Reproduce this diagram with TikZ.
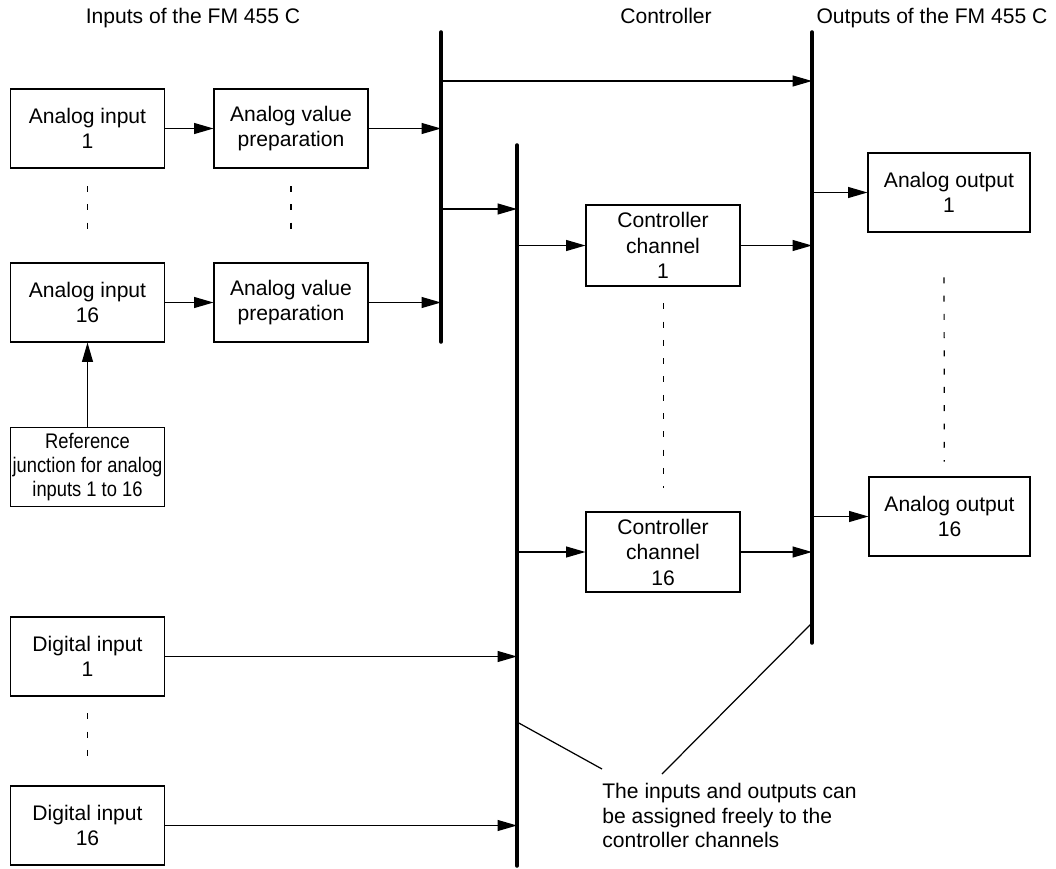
\documentclass[tikz,border=0pt]{standalone}
\usepackage{fontspec}
\setmainfont{Liberation Sans}
\newfontfamily\narrowfont[FakeStretch=0.87]{Liberation Sans}
\usetikzlibrary{arrows.meta}

\begin{document}
\begin{tikzpicture}[x=0.02cm,y=-0.02cm,
  box/.style={draw,line width=0.6pt,minimum width=3.08cm,minimum height=1.58cm,inner sep=0pt,align=center,font=\fontsize{12}{14.5}\selectfont},
  bus/.style={line width=2pt,line cap=round},
  arr/.style={line width=0.7pt,-{Triangle[length=11pt,width=6.2pt]}},
  dots/.style={line width=0.7pt,dash pattern=on 3.4pt off 7pt},
  lbl/.style={font=\fontsize{12}{13.9}\selectfont}]
\useasboundingbox (0,0) rectangle (1056,869);

% titles
\node[lbl,anchor=base] (tin) at (193,23) {Inputs of the FM 455 C};
\node[lbl,anchor=base] (tctl) at (666,23) {Controller};
\node[lbl,anchor=base] (tout) at (932,23) {Outputs of the FM 455 C};

% buses
\coordinate (b1) at (441,32);  \coordinate (b1e) at (441,342);
\coordinate (b2) at (517,145); \coordinate (b2e) at (517,866);
\coordinate (b3) at (812,32);  \coordinate (b3e) at (812,643);
\draw[bus] (b1) -- (b1e);
\draw[bus] (b2) -- (b2e);
\draw[bus] (b3) -- (b3e);

% inputs
\node[box] (ai1) at (87.5,128.5) {Analog input\\1};
\node[box] (avp1) at (291,128.5) {Analog value\\preparation};
\node[box] (ai16) at (87.5,302.5) {Analog input\\16};
\node[box] (avp16) at (291,302.5) {Analog value\\preparation};
\node[box,font=\narrowfont\fontsize{12}{13.6}\selectfont] (refj) at (87.5,467) {Reference\\junction for analog\\inputs 1 to 16};
\node[box] (di1) at (87.5,656.5) {Digital input\\1};
\node[box] (di16) at (87.5,825.5) {Digital input\\16};

% controller and outputs
\node[box,minimum height=1.62cm] (cc1) at (663,245.5) {Controller\\channel\\1};
\node[box,minimum height=1.6cm] (cc16) at (663,552) {Controller\\channel\\16};
\node[box,minimum width=3.24cm] (ao1) at (949,192.5) {Analog output\\1};
\node[box,minimum width=3.22cm] (ao16) at (949.5,516.5) {Analog output\\16};

% signal flow
\draw[arr] (ai1) -- (avp1);
\draw[arr] (ai16) -- (avp16);
\draw[arr] (avp1.east) -- (avp1.east -| b1);
\draw[arr] (avp16.east) -- (avp16.east -| b1);
\draw[arr] (refj.north) -- (ai16.south);
\coordinate (s13) at (441,81);
\coordinate (s12) at (441,209);
\draw[arr] (s13) -- (s13 -| b3);
\draw[arr] (s12) -- (s12 -| b2);
\draw[arr] (cc1.west -| b2) -- (cc1.west);
\draw[arr] (cc16.west -| b2) -- (cc16.west);
\draw[arr] (cc1.east) -- (cc1.east -| b3);
\draw[arr] (cc16.east) -- (cc16.east -| b3);
\draw[arr] (ao1.west -| b3) -- (ao1.west);
\draw[arr] (ao16.west -| b3) -- (ao16.west);
\draw[arr] (di1.east) -- (di1.east -| b2);
\draw[arr] (di16.east) -- (di16.east -| b2);

% dotted gaps
\draw[dots] ([yshift=-10pt]ai1.south) -- ([yshift=13pt]ai16.north);
\draw[dots] ([yshift=-10pt]avp1.south) -- ([yshift=13pt]avp16.north);
\draw[dots] ([shift={(0.5pt,-9.6pt)}]cc1.south) -- ([shift={(0.5pt,13.6pt)}]cc16.north);
\draw[dots] ([shift={(-2.8pt,-25.5pt)}]ao1.south) -- ([shift={(-3pt,8.5pt)}]ao16.north);
\draw[dots] ([yshift=-9.6pt]di1.south) -- ([yshift=10.8pt]di16.north);

% note
\node[lbl,align=left,anchor=north west,inner sep=0pt] (note) at (602,783)
  {The inputs and outputs can\\be assigned freely to the\\controller channels};
\coordinate (l1) at (517,722); \coordinate (n1) at (602,769);
\coordinate (l2) at (812,623); \coordinate (n2) at (662,774);
\draw[line width=0.7pt] (l1) -- (n1);
\draw[line width=0.7pt] (l2) -- (n2);
\end{tikzpicture}
\end{document}
